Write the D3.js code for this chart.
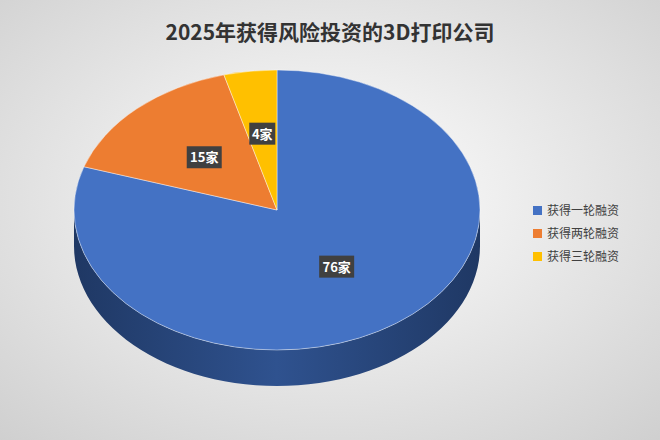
<!DOCTYPE html>
<html><head><meta charset="utf-8">
<script src="https://cdn.jsdelivr.net/npm/d3@7"></script>
<style>body{margin:0}</style></head>
<body><svg id="c" width="660" height="440"></svg>
<script>
var categories = ["获得一轮融资", "获得两轮融资", "获得三轮融资"];
var values = [76, 15, 4];
var labels = ["76家", "15家", "4家"];
var colors = ["#4472c4", "#ed7d31", "#ffc000"];
var sideColors = ["#2f528f", "#ae5a21", "#bf9000"];

var svg = d3.select("#c");
var defs = svg.append("defs");
var bg = defs.append("radialGradient").attr("id", "bg").attr("cx", "50%").attr("cy", "45%").attr("r", "75%");
bg.append("stop").attr("offset", "0%").attr("stop-color", "#ffffff");
bg.append("stop").attr("offset", "100%").attr("stop-color", "#cfcfcf");
svg.append("rect").attr("width", 660).attr("height", 440).attr("fill", "url(#bg)");

svg.append("text").attr("x", 330).attr("y", 40).attr("text-anchor", "middle")
    .attr("font-family", "Noto Sans CJK SC").attr("font-weight", "bold").attr("font-size", 21)
    .attr("fill", "#333").text("2025年获得风险投资的3D打印公司");

var cx = 277, cy = 210, rx = 203, ry = 140, depth = 36;
var pie = d3.pie().sort(null)(values);

function pt(a, dy) { return [cx + rx * Math.sin(a), cy - ry * Math.cos(a) + (dy || 0)]; }

// side walls for front half
pie.forEach(function (d, i) {
    var a0 = Math.max(d.startAngle, Math.PI / 2), a1 = Math.min(d.endAngle, Math.PI * 1.5);
    if (a1 <= a0) return;
    var g = defs.append("linearGradient").attr("id", "s" + i);
    g.append("stop").attr("offset", "0%").attr("stop-color", "#1f3864");
    g.append("stop").attr("offset", "50%").attr("stop-color", sideColors[i]);
    g.append("stop").attr("offset", "100%").attr("stop-color", "#1f3864");
    var top = d3.range(0, 61).map(function (k) { return pt(a0 + (a1 - a0) * k / 60); });
    var bot = d3.range(60, -1, -1).map(function (k) { return pt(a0 + (a1 - a0) * k / 60, depth); });
    svg.append("path").attr("d", d3.line()(top.concat(bot)) + "Z").attr("fill", "url(#s" + i + ")");
});

// top face: arc with scaling
var arc = d3.arc().innerRadius(0).outerRadius(rx);
var topG = svg.append("g").attr("transform", "translate(" + cx + "," + cy + ") scale(1," + (ry / rx) + ")");
topG.selectAll("path").data(pie).enter().append("path")
    .attr("d", arc).attr("fill", function (d, i) { return colors[i]; })
    .attr("stroke", "#fff").attr("stroke-width", 0.5);

// data labels
var labelR = [0.5, 0.52, 0.55];
pie.forEach(function (d, i) {
    var m = (d.startAngle + d.endAngle) / 2;
    var x = cx + rx * labelR[i] * Math.sin(m), y = cy - ry * labelR[i] * Math.cos(m);
    var w = labels[i].length * 9 + 8;
    svg.append("rect").attr("x", x - w / 2).attr("y", y - 11).attr("width", w).attr("height", 22).attr("fill", "#404040");
    svg.append("text").attr("x", x).attr("y", y + 5).attr("text-anchor", "middle")
        .attr("font-family", "Noto Sans CJK SC").attr("font-weight", "bold").attr("font-size", 13)
        .attr("fill", "#fff").text(labels[i]);
});

// legend
var lg = svg.append("g").attr("transform", "translate(533,203)");
categories.forEach(function (c, i) {
    lg.append("rect").attr("x", 0).attr("y", i * 23 + 3).attr("width", 9).attr("height", 9).attr("fill", colors[i]);
    lg.append("text").attr("x", 14).attr("y", i * 23 + 12).attr("font-family", "Noto Sans CJK SC")
        .attr("font-size", 12).attr("fill", "#404040").text(c);
});
</script></body></html>
